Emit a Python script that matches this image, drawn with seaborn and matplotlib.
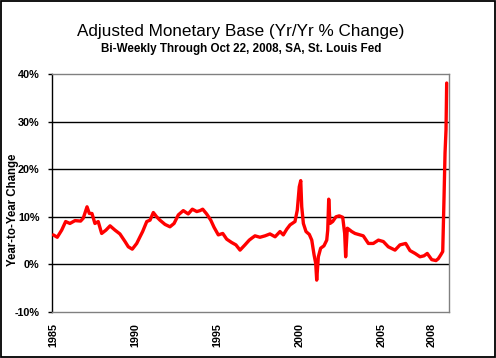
"""Adjusted monetary base, year-over-year % change (St. Louis Fed, bi-weekly)."""

import matplotlib

matplotlib.use("Agg")

import matplotlib.pyplot as plt
import pandas as pd
import seaborn as sns
from matplotlib.patches import Rectangle
from matplotlib.ticker import FuncFormatter, MultipleLocator

# Values (decimal year, % change yr/yr).
YEARS = [
    1985.02, 1985.26, 1985.53, 1985.77, 1986.03, 1986.34, 1986.68, 1986.84,
    1987.07, 1987.21, 1987.37, 1987.55, 1987.75, 1987.96, 1988.22, 1988.47,
    1988.77, 1989.07, 1989.38, 1989.58, 1989.82, 1990.09, 1990.29, 1990.45,
    1990.70, 1990.90, 1991.10, 1991.30, 1991.50, 1991.81, 1992.11, 1992.36,
    1992.62, 1992.92, 1993.22, 1993.47, 1993.74, 1993.94, 1994.10, 1994.34,
    1994.59, 1994.79, 1995.05, 1995.32, 1995.56, 1995.86, 1996.12, 1996.37,
    1996.67, 1996.93, 1997.08, 1997.28, 1997.58, 1997.89, 1998.19, 1998.50,
    1998.80, 1999.00, 1999.21, 1999.41, 1999.71, 1999.85, 1999.97, 2000.06,
    2000.12, 2000.22, 2000.38, 2000.58, 2000.73, 2000.87, 2000.97, 2001.03,
    2001.13, 2001.27, 2001.47, 2001.64, 2001.70, 2001.76, 2001.84, 2002.00,
    2002.20, 2002.40, 2002.61, 2002.73, 2002.79, 2002.89, 2003.05, 2003.16,
    2003.36, 2003.66, 2003.86, 2004.17, 2004.47, 2004.78, 2005.08, 2005.38,
    2005.79, 2006.09, 2006.44, 2006.70, 2007.01, 2007.31, 2007.55, 2007.75,
    2008.02, 2008.28, 2008.42, 2008.57, 2008.69, 2008.77, 2008.83, 2008.89,
    2008.93,
]
CHANGE = [
    6.2, 5.7, 7.2, 9.0, 8.6, 9.2, 9.1, 9.7,
    12.1, 10.7, 10.7, 8.6, 9.0, 6.5, 7.2, 8.1,
    7.2, 6.4, 4.8, 3.7, 3.2, 4.4, 5.8, 6.9,
    9.0, 9.3, 10.9, 10.0, 9.3, 8.4, 7.9, 8.6,
    10.4, 11.3, 10.6, 11.6, 11.1, 11.3, 11.6, 10.6,
    9.3, 7.8, 6.2, 6.5, 5.3, 4.6, 4.1, 3.0,
    4.1, 5.1, 5.5, 6.0, 5.7, 6.0, 6.4, 5.8,
    6.9, 6.2, 7.4, 8.3, 9.0, 11.4, 16.3, 17.6,
    12.1, 8.6, 6.9, 6.3, 5.1, 2.0, 0.2, -3.3,
    1.6, 3.4, 3.9, 5.1, 7.2, 13.7, 8.6, 9.0,
    10.0, 10.2, 9.9, 6.5, 1.6, 7.6, 7.2, 6.9,
    6.5, 6.2, 6.0, 4.4, 4.4, 5.1, 4.8, 3.7,
    3.0, 4.1, 4.4, 2.9, 2.3, 1.6, 1.8, 2.3,
    1.0, 0.8, 1.2, 2.0, 2.7, 14.2, 23.4, 28.3,
    38.1,
]
YEAR_TICKS = [1985.0, 1990.0, 1995.0, 2000.0, 2005.0, 2008.0]
YEAR_LABELS = ["1985", "1990", "1995", "2000", "2005", "2008"]

TITLE = "Adjusted Monetary Base (Yr/Yr % Change)"
SUBTITLE = "Bi-Weekly Through Oct 22, 2008, SA, St. Louis Fed"

sns.set_theme(style="white")
plt.rcParams["font.family"] = ["Liberation Sans", "DejaVu Sans"]
plt.rcParams["text.color"] = "black"
plt.rcParams["xtick.color"] = "black"
plt.rcParams["ytick.color"] = "black"

frame = pd.DataFrame({"year": YEARS, "change": CHANGE})

fig = plt.figure(figsize=(4.96, 3.58), dpi=100)
ax = fig.add_axes([0.1048, 0.1285, 0.8004, 0.6648])

for level in (0, 10, 20, 30):
    ax.axhline(level, color="black", linewidth=1.0, zorder=1)

sns.lineplot(
    data=frame, x="year", y="change", ax=ax, color="#FF0000",
    linewidth=2.4, sort=False, zorder=3,
)

ax.set_xlim(1984.94, 2009.07)
ax.set_ylim(-10, 40)
ax.yaxis.set_major_locator(MultipleLocator(10))
ax.yaxis.set_major_formatter(FuncFormatter(lambda v, _: f"{v:.0f}%"))
ax.set_xticks(YEAR_TICKS)
ax.set_xticklabels(YEAR_LABELS, rotation=90)
ax.tick_params(axis="y", left=True, length=3, width=1, color="black",
               pad=6, labelsize=7.8, labelcolor="black")
ax.tick_params(axis="x", bottom=False, length=0, pad=8, labelsize=7.8,
               labelcolor="black")
for label in ax.get_xticklabels() + ax.get_yticklabels():
    label.set_fontweight("bold")

ax.set_xlabel("")
ax.set_ylabel("")
for side in ("top", "right", "bottom"):
    ax.spines[side].set_color("#808080")
    ax.spines[side].set_linewidth(1.0)
ax.spines["left"].set_color("black")
ax.spines["left"].set_linewidth(1.0)

fig.text(0.486, 0.911, TITLE, ha="center", va="center", fontsize=12.3,
         color="black")
fig.text(0.487, 0.863, SUBTITLE, ha="center", va="center", fontsize=8.4,
         fontweight="bold", color="black")
fig.text(0.027, 0.413, "Year-to-Year Change", ha="center", va="center",
         rotation=90, fontsize=8.3, fontweight="bold", color="black")

fig.patches.append(Rectangle((0.002, 0.003), 0.995, 0.994, transform=fig.transFigure,
                             fill=False, edgecolor="black", linewidth=1.3))

fig.savefig("out.png", dpi=100)
